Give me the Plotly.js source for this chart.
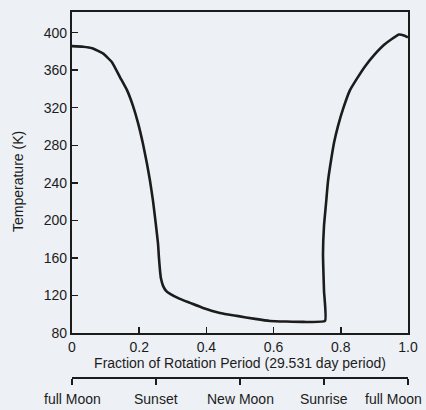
<!DOCTYPE html>
<html>
<head>
<meta charset="utf-8">
<script src="https://cdn.plot.ly/plotly-3.0.1.min.js"></script>
<style>html,body{margin:0;padding:0;background:#edf0f5;}</style>
</head>
<body>
<div id="chart" style="width:426px;height:410px;"></div>
<script>
// Fraction of rotation period
const fraction = [0, 0.033, 0.060, 0.092, 0.119, 0.143, 0.164, 0.182, 0.196, 0.211, 0.223, 0.232, 0.241, 0.250, 0.256, 0.259, 0.262, 0.265, 0.271, 0.280, 0.292, 0.321, 0.351, 0.390, 0.440, 0.491, 0.545, 0.589, 0.688, 0.753,
                  0.750, 0.747, 0.750, 0.756, 0.762, 0.771, 0.780, 0.792, 0.807, 0.827, 0.848, 0.872, 0.899, 0.929, 0.955, 0.973, 0.988, 1.0];
// Surface temperature (K)
const temperature = [385.6, 385, 383.4, 377.9, 368.5, 352.4, 338.5, 321.5, 304.4, 281.9, 260.5, 242.4, 221, 194.3, 175.1, 159.1, 146.2, 137.7, 130.2, 124.9, 121.7, 116.3, 112.1, 106.7, 101.4, 98.2, 95, 92.8, 91.8, 92.8,
                     125, 164, 194, 218, 242, 264, 283, 301, 319, 338.5, 351, 364, 376, 387, 394, 398, 397, 395];

const xTickVals = [0, 0.2, 0.4, 0.6, 0.8, 1.0];
const xTickText = ["0", "0.2", "0.4", "0.6", "0.8", "1.0"];
const yTickVals = [80, 120, 160, 200, 240, 280, 320, 360, 400];

const moonFrac = [0, 0.25, 0.5, 0.75, 1.0];
const moonLabels = ["full Moon", "Sunset", "New Moon", "Sunrise", "full Moon"];

const FONT = '"Liberation Sans", Arial, Helvetica, sans-serif';
const INK = '#1c1c1c';
const BG = '#edf0f5';

const traces = [
  {
    x: fraction, y: temperature, type: 'scatter', mode: 'lines',
    line: {color: INK, width: 2.6, shape: 'spline', smoothing: 0.4}, hoverinfo: 'skip', showlegend: false
  },
  {
    x: moonFrac, y: moonFrac.map(() => null), xaxis: 'x2', yaxis: 'y',
    type: 'scatter', mode: 'markers', marker: {opacity: 0}, hoverinfo: 'skip', showlegend: false
  }
];

const annotations = moonLabels.map((t, i) => ({
  text: t, xref: 'x2', x: moonFrac[i], yref: 'paper', y: 0,
  yanchor: 'top', yshift: -11,
  xanchor: i === moonLabels.length - 1 ? 'right' : 'center',
  xshift: i === moonLabels.length - 1 ? 16 : 0,
  showarrow: false, font: {family: FONT, size: 14, color: INK}
}));
annotations.push({
  text: 'Temperature (K)', textangle: -90, xref: 'paper', x: 0, xshift: -54,
  yref: 'paper', y: 0.5355, xanchor: 'center', yanchor: 'middle',
  showarrow: false, font: {family: FONT, size: 14, color: INK}
});

const layout = {
  width: 426, height: 410,
  margin: {l: 72, r: 18, t: 12, b: 32, pad: 0},
  paper_bgcolor: BG, plot_bgcolor: BG,
  font: {family: FONT, size: 14, color: INK},
  showlegend: false,
  xaxis: {
    domain: [0, 1], range: [0, 1], anchor: 'y',
    tickvals: xTickVals, ticktext: xTickText,
    ticks: 'inside', ticklen: 6, tickwidth: 1.5, tickcolor: INK,
    showline: true, linewidth: 2.2, linecolor: INK, mirror: true,
    showgrid: false, zeroline: false,
    tickfont: {family: FONT, size: 14, color: INK},
    title: {text: 'Fraction of Rotation Period (29.531 day period)', font: {family: FONT, size: 14, color: INK}, standoff: 3}
  },
  yaxis: {
    domain: [0.123, 1], range: [80, 422],
    tickvals: yTickVals,
    ticks: 'inside', ticklen: 6, tickwidth: 1.5, tickcolor: INK,
    showline: true, linewidth: 2.2, linecolor: INK, mirror: true,
    showgrid: false, zeroline: false,
    tickfont: {family: FONT, size: 14, color: INK}
  },
  xaxis2: {
    overlaying: 'x', anchor: 'free', position: 0, side: 'bottom',
    range: [0, 1], tickvals: moonFrac, showticklabels: false,
    ticks: 'outside', ticklen: 6, tickwidth: 1.5, tickcolor: INK,
    showline: true, linewidth: 2.2, linecolor: INK,
    showgrid: false, zeroline: false
  },
  annotations: annotations
};

Plotly.newPlot('chart', traces, layout, {staticPlot: true, displayModeBar: false});
</script>
</body>
</html>
